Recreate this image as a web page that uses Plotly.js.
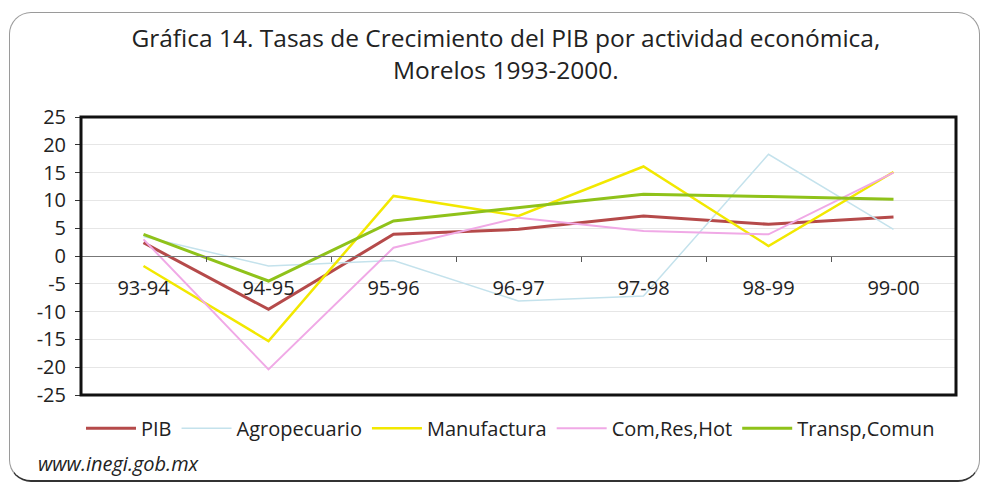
<!DOCTYPE html>
<html><head><meta charset="utf-8">
<script src="https://cdn.plot.ly/plotly-3.0.1.min.js"></script>
<style>
html,body{margin:0;padding:0;background:#fff;}
#wrap{position:relative;width:988px;height:484px;overflow:hidden;}
#frame{position:absolute;left:9px;top:12px;width:971px;height:470px;border:1.5px solid #9a9a9a;border-bottom:2.5px solid #333;border-radius:22px;box-sizing:border-box;pointer-events:none;}
#chart{position:absolute;left:0;top:0;width:988px;height:484px;}
</style></head>
<body><div id="wrap"><div id="chart"></div><div id="frame"></div></div>
<script>
const categories = ["93-94","94-95","95-96","96-97","97-98","98-99","99-00"];
const pib          = [2.4, -9.6, 3.9, 4.8, 7.2, 5.7, 7.0];
const agropecuario = [3.5, -1.8, -0.8, -8.1, -7.2, 18.3, 4.8];
const manufactura  = [-1.8, -15.3, 10.8, 7.2, 16.1, 1.8, 15.1];
const comResHot    = [3.0, -20.4, 1.5, 6.9, 4.5, 3.9, 15.0];
const transpComun  = [3.9, -4.5, 6.3, 8.7, 11.1, 10.7, 10.2];
const seriesNames  = ["PIB","Agropecuario","Manufactura","Com,Res,Hot","Transp,Comun"];
const yTicks      = [25,20,15,10,5,0,-5,-10,-15,-20,-25];
const yTickLabels = ["25","20","15","10","5","0","-5","-10","-15","-20","-25"];

const colors = ["#b54a4a","#c4e2ec","#f2e800","#f0a9e6","#8fc21a"];
const widths = [3, 1.5, 2.5, 2, 3];
const data = [pib, agropecuario, manufactura, comResHot, transpComun].map((v,i)=>({
  type:"scatter", mode:"lines", x:categories, y:v, name:seriesNames[i],
  line:{color:colors[i], width:widths[i]}
}));
const F = "'Open Sans', sans-serif";
const layout = {
  width:988, height:484,
  margin:{l:81, r:32, t:117, b:89},
  paper_bgcolor:"rgba(0,0,0,0)", plot_bgcolor:"#fff",
  font:{family:F, color:"#222", size:17},
  title:{text:"Gráfica 14. Tasas de Crecimiento del PIB por actividad económica,<br>Morelos 1993-2000.",
         x:0.512, xref:"container", xanchor:"center", y:0.902, yref:"container", yanchor:"top",
         font:{family:F, size:24.5, color:"#222"}},
  xaxis:{type:"category", range:[-0.5,6.5], anchor:"free", position:0.5,
         showline:true, linecolor:"#777", linewidth:1, showgrid:false,
         ticks:"outside", tickson:"boundaries", ticklen:5, tickcolor:"#555",
         ticklabelstandoff:14,
         tickfont:{size:20, family:F, color:"#222"}, zeroline:false, fixedrange:true},
  yaxis:{range:[-25,25], tickvals:yTicks, ticktext:yTickLabels, showgrid:true, gridcolor:"#e6e6e6", gridwidth:1,
         zeroline:false, showline:false, ticks:"outside", ticklen:5, tickcolor:"#333",
         ticklabelstandoff:5,
         tickfont:{size:20, family:F, color:"#222"}, fixedrange:true},
  shapes:[{type:"rect", xref:"paper", yref:"paper", x0:0, x1:1, y0:0, y1:1,
           line:{color:"#111", width:3}, fillcolor:"rgba(0,0,0,0)"}],
  legend:{orientation:"h", x:0.0, xanchor:"left", y:-0.12, yanchor:"middle",
          font:{size:20, family:F, color:"#222"}, bgcolor:"rgba(0,0,0,0)", itemwidth:50, tracegroupgap:0},
  annotations:[{text:"<i>www.inegi.gob.mx</i>", xref:"paper", yref:"paper", x:-0.051, xanchor:"left",
                y:-0.245, yanchor:"middle", showarrow:false, font:{size:20, family:F, color:"#222"}}],
  showlegend:true
};
Plotly.newPlot("chart", data, layout, {displayModeBar:false, staticPlot:true});
</script></body></html>
